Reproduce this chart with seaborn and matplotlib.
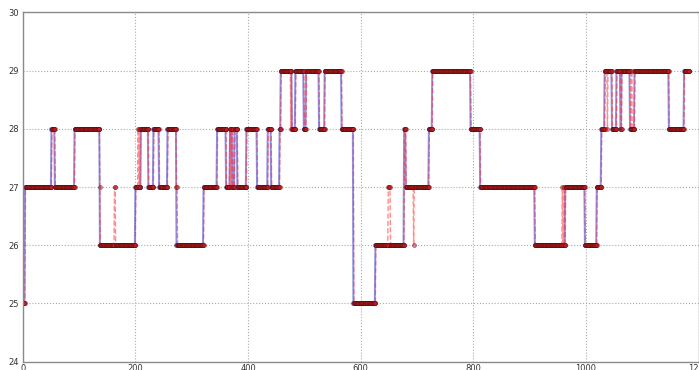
import numpy as np
import pandas as pd
import matplotlib
matplotlib.use("Agg")
import matplotlib.pyplot as plt
import seaborn as sns

# ---- data (run-length: start index, value) ----
n_points = 1184

blue_starts = [0, 4, 51, 57, 92, 137, 200, 210, 223, 232, 242, 257, 273, 321, 345, 361,
               368, 372, 376, 381, 397, 416, 435, 441, 456, 458, 478, 484, 499, 503, 526,
               536, 566, 587, 626, 677, 680, 721, 727, 795, 812, 909, 963, 998, 1019, 1027,
               1033, 1046, 1054, 1061, 1063, 1078, 1086, 1147, 1174]
blue_values = [25, 27, 28, 27, 28, 26, 27, 28, 27, 28, 27, 28, 26, 27, 28, 27,
               28, 27, 28, 27, 28, 27, 28, 27, 28, 29, 28, 29, 28, 29, 28,
               29, 28, 25, 26, 28, 27, 28, 29, 28, 27, 26, 27, 26, 27, 28,
               29, 28, 29, 28, 29, 28, 29, 28, 29]

red_starts = [0, 5, 52, 58, 93, 137, 138, 163, 165, 201, 205, 206, 207, 208, 209, 224, 233,
              243, 258, 273, 275, 322, 346, 362, 368, 369, 370, 371, 372, 374, 377, 382,
              398, 417, 436, 442, 457, 459, 476, 477, 478, 485, 500, 504, 527, 537, 567,
              588, 627, 649, 653, 678, 681, 694, 695, 722, 728, 796, 813, 910, 958, 959,
              961, 962, 964, 999, 1020, 1028, 1034, 1038, 1039, 1047, 1055, 1062, 1064,
              1079, 1081, 1082, 1087, 1148, 1175]
red_values = [25, 27, 28, 27, 28, 27, 26, 27, 26, 27, 28, 27, 28, 27, 28, 27, 28,
              27, 28, 27, 26, 27, 28, 27, 28, 27, 28, 27, 28, 27, 28, 27,
              28, 27, 28, 27, 28, 29, 28, 29, 28, 29, 28, 29, 28, 29, 28,
              25, 26, 27, 26, 28, 27, 26, 27, 28, 29, 28, 27, 26, 27, 26,
              27, 26, 27, 26, 27, 28, 29, 28, 29, 28, 29, 28, 29,
              28, 29, 28, 29, 28, 29]

x_ticks = [0, 200, 400, 600, 800, 1000, 1200]
y_ticks = [24, 25, 26, 27, 28, 29, 30]


def expand(starts, values, n):
    out = np.empty(n)
    bounds = list(starts) + [n]
    for i, v in enumerate(values):
        out[bounds[i]:bounds[i + 1]] = v
    return out


idx = np.arange(n_points)
df = pd.DataFrame({
    "x": idx,
    "blue": expand(blue_starts, blue_values, n_points),
    "red": expand(red_starts, red_values, n_points),
})

sns.set_style("white")
fig = plt.figure(figsize=(6.99, 3.70), dpi=100)
ax = fig.add_axes([22.7 / 699, (370 - 361.7) / 370, (698.7 - 22.7) / 699, (361.7 - 12.3) / 370])

sns.lineplot(data=df, x="x", y="blue", ax=ax, estimator=None, sort=False,
             color="#3333cc", alpha=0.55, linewidth=1.4, marker="o", markersize=3,
             markerfacecolor="#2a2a90", markeredgecolor="#10104a", markeredgewidth=0.4)
sns.lineplot(data=df, x="x", y="red", ax=ax, estimator=None, sort=False,
             color="#ff3030", alpha=0.55, linewidth=1.0, linestyle="--", marker="o",
             markersize=3, markerfacecolor="#c41c1c", markeredgecolor="#4a0c0c",
             markeredgewidth=0.4)

ax.set_xlim(0, 1200)
ax.set_ylim(24, 30)
ax.set_xticks(x_ticks)
ax.set_yticks(y_ticks)
ax.set_xlabel("")
ax.set_ylabel("")
ax.grid(True, linestyle=":", color="#aaaaaa", linewidth=0.8)
for s in ax.spines.values():
    s.set_color("#8a8a8a")
    s.set_linewidth(1.0)
ax.tick_params(axis="both", length=0, labelsize=6, colors="#333333")
ax.tick_params(axis="x", pad=1.5)
ax.tick_params(axis="y", pad=3)

fig.savefig("out.png", dpi=100)
